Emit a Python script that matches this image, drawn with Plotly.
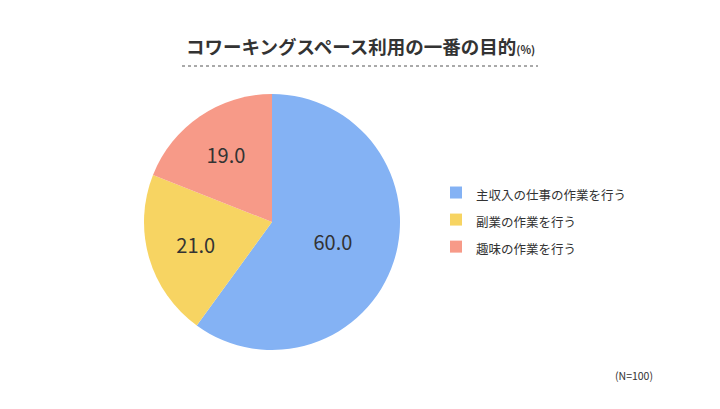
import plotly.graph_objects as go

labels = ["主収入の仕事の作業を行う", "副業の作業を行う", "趣味の作業を行う"]
values = [60.0, 21.0, 19.0]
colors = ["#84B2F4", "#F7D462", "#F79A88"]

title_text = "コワーキングスペース利用の一番の目的"
title_unit = "(%)"
note_text = "(N=100)"

FONT = "Noto Sans CJK JP"
W, H = 712, 401  # page has an 8px body margin


def px(x):
    return (x - 8) / W


def py(y):
    return 1 - (y - 8) / H


legend_labels = ["<span style='font-size:12.5px'>" + s + "</span>" for s in labels]

fig = go.Figure()
fig.add_trace(go.Pie(
    labels=legend_labels,
    values=values,
    marker=dict(colors=colors, line=dict(width=0)),
    sort=False,
    direction="clockwise",
    rotation=0,
    texttemplate="%{value:.1f}",
    textposition="inside",
    insidetextorientation="horizontal",
    textfont=dict(family=FONT, size=20, color="#333333"),
    domain=dict(x=[px(144), px(400)], y=[py(350), py(94)]),
    hoverinfo="value",
))

fig.update_layout(
    width=W, height=H,
    margin=dict(l=0, r=0, t=0, b=0),
    paper_bgcolor="white",
    plot_bgcolor="white",
    showlegend=True,
    legend=dict(
        x=px(436), y=py(220), xanchor="left", yanchor="middle",
        font=dict(family=FONT, size=18.5, color="#333333"),
        bgcolor="rgba(0,0,0,0)",
    ),
    font=dict(family=FONT, color="#333333"),
    annotations=[
        dict(
            text="<b>" + title_text + "</b><span style='font-size:11px;font-weight:bold'>" + title_unit + "</span>",
            x=px(360), y=py(46), xref="paper", yref="paper", showarrow=False,
            font=dict(family=FONT, size=18.5, color="#333333"),
            xanchor="center", yanchor="middle",
        ),
        dict(
            text=note_text,
            x=px(634), y=py(375), xref="paper", yref="paper", showarrow=False,
            font=dict(family=FONT, size=10.5, color="#333333"),
            xanchor="center", yanchor="middle",
        ),
    ],
    shapes=[
        dict(type="line", xref="paper", yref="paper",
             x0=px(182), x1=px(538), y0=py(66), y1=py(66),
             line=dict(color="#555555", width=1, dash="dot")),
    ],
)

fig.write_html("out.html")
